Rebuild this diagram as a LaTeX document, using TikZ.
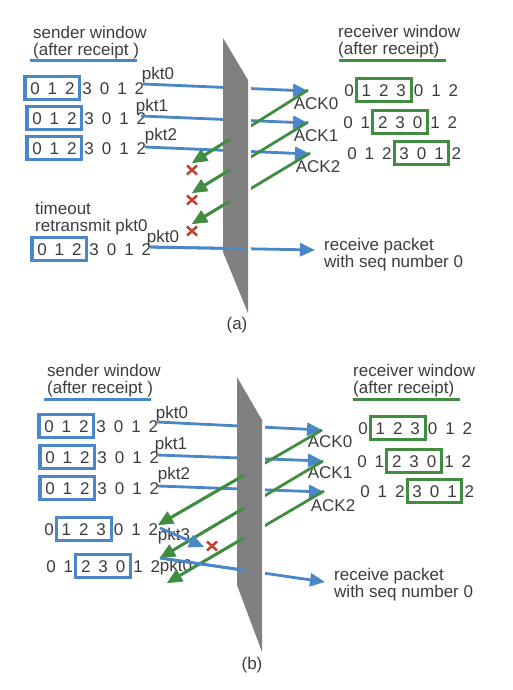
\documentclass[tikz,border=0pt]{standalone}
\usepackage{fontspec}
\setmainfont{Liberation Sans}
\usetikzlibrary{arrows.meta,fit,calc}
\definecolor{sblue}{RGB}{74,134,200}
\definecolor{sgreen}{RGB}{64,140,64}
\definecolor{xred}{RGB}{196,64,44}
\definecolor{wallgray}{RGB}{128,128,128}
\definecolor{txt}{RGB}{60,60,60}
\tikzset{
 lbl/.style={font=\fontsize{17}{17}\selectfont, text=txt, inner sep=0pt},
 two/.style={lbl, align=left, anchor=west},
 dig/.style={lbl, text height=12.2pt, text depth=0pt},
 sbox/.style={draw=sblue, line width=3.2pt, inner xsep=5pt, inner ysep=5pt},
 rbox/.style={draw=sgreen, line width=3pt, inner xsep=5pt, inner ysep=5pt},
 parr/.style={draw=sblue, line width=2.8pt, -{Triangle[length=15pt,width=13pt]}},
 aarr/.style={draw=sgreen, line width=2.8pt, -{Triangle[length=15pt,width=13pt]}},
 pline/.style={draw=sblue, line width=2.8pt},
 uline/.style={line width=3pt},
 xmark/.style={draw=xred, line width=2.5pt},
 wallshape/.style={fill=wallgray, draw=none},
}
\newcommand\digrow[3]{\foreach \d [count=\i from 0] in {0,1,2,3,0,1,2}{\node[dig] (#1-\i) at ({#2+\i*17.4},#3) {\d};}}
\newcommand\xat[2]{\draw[xmark] ($(#1)+(-5,-#2)$) -- ($(#1)+(5,#2)$) ($(#1)+(-5,#2)$) -- ($(#1)+(5,-#2)$);}
\begin{document}
\begin{tikzpicture}[x=1pt,y=-1pt]
\useasboundingbox (0,0) rectangle (513,690);

% ================= (a) =================
\node[two] (sha) at (33,43) {sender window\\(after receipt )};
\draw[uline,sblue] (30,61) -- (137,61);
\node[two] (rha) at (338,42) {receiver window\\(after receipt)};
\draw[uline,sgreen] (339,61) -- (446,61);

\digrow{sa1}{35}{88}
\digrow{sa2}{37}{118}
\digrow{sa3}{37}{148}
\digrow{sa4}{42}{249}
\node[sbox, fit=(sa1-0)(sa1-2)] (sa1b) {};
\node[sbox, fit=(sa2-0)(sa2-2)] (sa2b) {};
\node[sbox, fit=(sa3-0)(sa3-2)] (sa3b) {};
\node[sbox, fit=(sa4-0)(sa4-2)] (sa4b) {};

\digrow{ra1}{349}{90}
\digrow{ra2}{348}{122}
\digrow{ra3}{352}{153}
\node[rbox, fit=(ra1-1)(ra1-3)] (ra1b) {};
\node[rbox, fit=(ra2-2)(ra2-4)] (ra2b) {};
\node[rbox, fit=(ra3-3)(ra3-5)] (ra3b) {};

\node[lbl] (pa0l) at (158,75) {pkt0};
\node[lbl] (pa1l) at (152,107) {pkt1};
\node[lbl] (pa2l) at (161,136) {pkt2};
\node[lbl] (pa3l) at (163,238) {pkt0};
\node[lbl] (aa0l) at (316,104) {ACK0};
\node[lbl] (aa1l) at (316,136) {ACK1};
\node[lbl] (aa2l) at (318,167) {ACK2};
\node[two] (toa) at (35,219) {timeout\\retransmit pkt0};
\node[two] (rcva) at (324,255) {receive packet\\with seq number 0};
\node[lbl] (capa) at (237,325) {(a)};

\coordinate (pa0s) at (143,84);  \coordinate (pa0e) at (308,91);
\coordinate (pa1s) at (141,116); \coordinate (pa1e) at (308,123);
\coordinate (pa2s) at (145,147); \coordinate (pa2e) at (310,154);
\coordinate (pa3s) at (150,247); \coordinate (pa3e) at (315,250);
\coordinate (aa0s) at (308,90);  \coordinate (aa0e) at (192,163);
\coordinate (aa1s) at (308,122); \coordinate (aa1e) at (192,193);
\coordinate (aa2s) at (310,153); \coordinate (aa2e) at (192,224);

\draw[parr] (pa0s) -- (pa0e);
\draw[parr] (pa1s) -- (pa1e);
\draw[parr] (pa2s) -- (pa2e);
\draw[parr] (pa3s) -- (pa3e);
\draw[aarr] (aa0s) -- (aa0e);
\draw[aarr] (aa1s) -- (aa1e);
\draw[aarr] (aa2s) -- (aa2e);

\draw[white, line width=5pt] (248,80) -- (248,313);
\fill[wallshape] (223,38) -- (248,80) -- (248,313) -- (223,252) -- cycle;

\draw[aarr] ($(aa0s)!0.672!(aa0e)$) -- (aa0e);
\draw[aarr] ($(aa1s)!0.672!(aa1e)$) -- (aa1e);
\draw[aarr] ($(aa2s)!0.678!(aa2e)$) -- (aa2e);
\draw[pline] (pa3s) -- ($(pa3s)!0.582!(pa3e)$);

\coordinate (xa0) at (192,170); \xat{xa0}{4.5}
\coordinate (xa1) at (192,200); \xat{xa1}{4.5}
\coordinate (xa2) at (192,231); \xat{xa2}{4.5}

% ================= (b) =================
\node[two] (shb) at (47,381) {sender window\\(after receipt )};
\draw[uline,sblue] (44,399) -- (151,399);
\node[two] (rhb) at (353,381) {receiver window\\(after receipt)};
\draw[uline,sgreen] (353,399) -- (460,399);

\digrow{sb1}{49}{426}
\digrow{sb2}{50}{457}
\digrow{sb3}{50}{488}
\digrow{sb4}{49}{529}
\digrow{sb5}{51}{566}
\node[sbox, fit=(sb1-0)(sb1-2)] (sb1b) {};
\node[sbox, fit=(sb2-0)(sb2-2)] (sb2b) {};
\node[sbox, fit=(sb3-0)(sb3-2)] (sb3b) {};
\node[sbox, fit=(sb4-1)(sb4-3)] (sb4b) {};
\node[sbox, fit=(sb5-2)(sb5-4)] (sb5b) {};

\digrow{rb1}{363}{428}
\digrow{rb2}{362}{461}
\digrow{rb3}{365}{491}
\node[rbox, fit=(rb1-1)(rb1-3)] (rb1b) {};
\node[rbox, fit=(rb2-2)(rb2-4)] (rb2b) {};
\node[rbox, fit=(rb3-3)(rb3-5)] (rb3b) {};

\node[lbl] (pb0l) at (172,414) {pkt0};
\node[lbl] (pb1l) at (171,445) {pkt1};
\node[lbl] (pb2l) at (174,475) {pkt2};
\node[lbl] (pb3l) at (174,536) {pkt3};
\node[lbl] (pb4l) at (176,567) {pkt0};
\node[lbl] (ab0l) at (330,442) {ACK0};
\node[lbl] (ab1l) at (330,473) {ACK1};
\node[lbl] (ab2l) at (333,506) {ACK2};
\node[two] (rcvb) at (334,585) {receive packet\\with seq number 0};
\node[lbl] (capb) at (252,665) {(b)};

\coordinate (pb0s) at (157,422); \coordinate (pb0e) at (322,430);
\coordinate (pb1s) at (157,455); \coordinate (pb1e) at (323,461);
\coordinate (pb2s) at (158,486); \coordinate (pb2e) at (324,492);
\coordinate (pb3s) at (160,528); \coordinate (pb3e) at (204,547);
\coordinate (pb4s) at (160,558); \coordinate (pb4e) at (325,582);
\coordinate (ab0s) at (322,430); \coordinate (ab0e) at (158,525);
\coordinate (ab1s) at (323,461); \coordinate (ab1e) at (160,558);
\coordinate (ab2s) at (324,491); \coordinate (ab2e) at (167,583);

\draw[parr] (pb0s) -- (pb0e);
\draw[parr] (pb1s) -- (pb1e);
\draw[parr] (pb2s) -- (pb2e);
\draw[parr] (pb4s) -- (pb4e);
\draw[aarr] (ab0s) -- (ab0e);
\draw[aarr] (ab1s) -- (ab1e);
\draw[aarr] (ab2s) -- (ab2e);

\draw[white, line width=5pt] (262,420) -- (262,652);
\fill[wallshape] (237,377) -- (262,420) -- (262,652) -- (237,585) -- cycle;

\draw[aarr] ($(ab0s)!0.476!(ab0e)$) -- (ab0e);
\draw[aarr] ($(ab1s)!0.485!(ab1e)$) -- (ab1e);
\draw[aarr] ($(ab2s)!0.51!(ab2e)$) -- (ab2e);
\draw[pline] (pb4s) -- ($(pb4s)!0.515!(pb4e)$);
\draw[parr] (pb3s) -- (pb3e);

\coordinate (xb0) at (212,546); \xat{xb0}{4.5}
\end{tikzpicture}
\end{document}
